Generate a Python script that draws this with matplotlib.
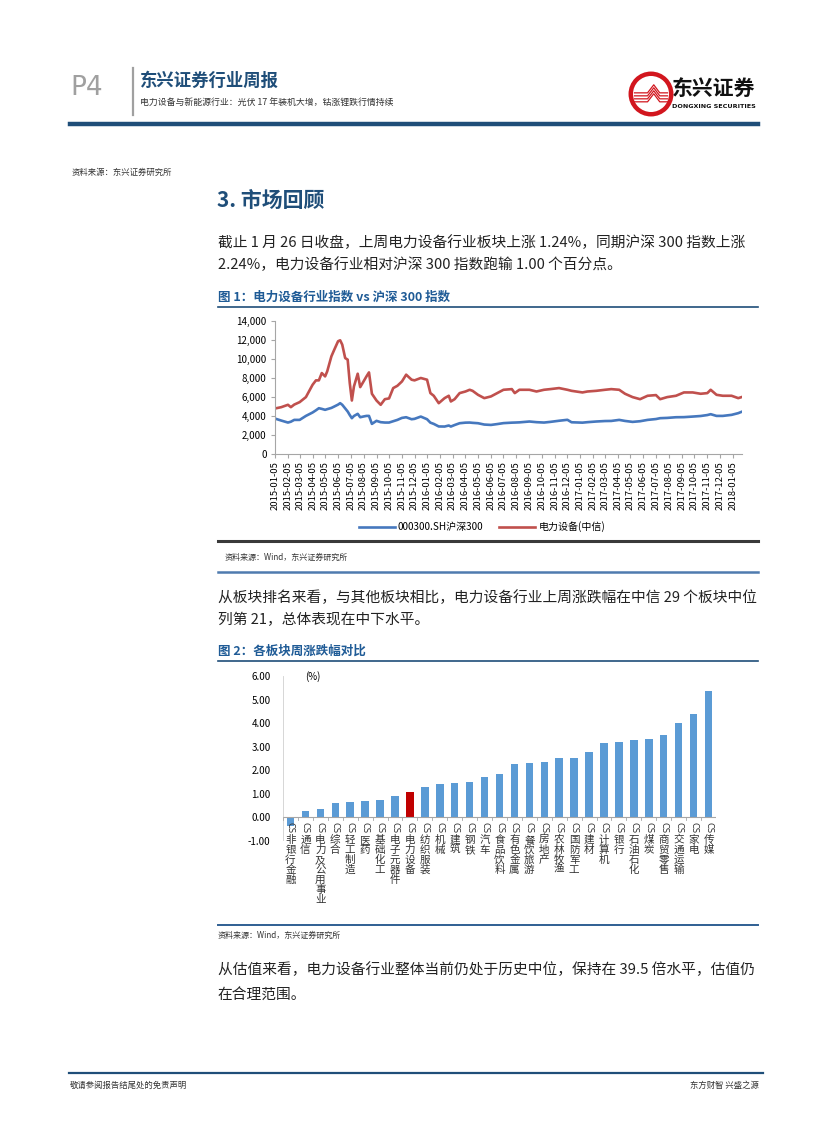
import matplotlib
matplotlib.use("Agg")
import matplotlib.pyplot as plt
import matplotlib.patches as mpatches
import matplotlib.transforms as mtrans
from matplotlib.lines import Line2D
from matplotlib.ticker import FuncFormatter
import pandas as pd

plt.rcParams['font.family'] = ['Noto Sans CJK SC', 'DejaVu Sans']

# ---- data: figure 1 (index levels) ----
dates = ["2015-01-05", "2015-01-20", "2015-02-05", "2015-02-12", "2015-02-20", "2015-03-05",
         "2015-03-20", "2015-04-05", "2015-04-13", "2015-04-20", "2015-04-27", "2015-05-05",
         "2015-05-10", "2015-05-20", "2015-05-27", "2015-06-05", "2015-06-10", "2015-06-15",
         "2015-06-22", "2015-06-28", "2015-07-03", "2015-07-08", "2015-07-13", "2015-07-22",
         "2015-07-28", "2015-08-05", "2015-08-12", "2015-08-18", "2015-08-25", "2015-09-05",
         "2015-09-15", "2015-09-25", "2015-10-05", "2015-10-15", "2015-10-25", "2015-11-05",
         "2015-11-15", "2015-11-28", "2015-12-05", "2015-12-20", "2016-01-04", "2016-01-12",
         "2016-01-20", "2016-02-01", "2016-02-15", "2016-02-25", "2016-03-01", "2016-03-10",
         "2016-03-22", "2016-04-05", "2016-04-15", "2016-04-22", "2016-05-05", "2016-05-20",
         "2016-06-05", "2016-06-20", "2016-07-05", "2016-07-25", "2016-08-01", "2016-08-12",
         "2016-09-05", "2016-09-22", "2016-10-10", "2016-10-25", "2016-11-15", "2016-12-05",
         "2016-12-15", "2017-01-10", "2017-01-22", "2017-02-12", "2017-03-05", "2017-03-20",
         "2017-04-08", "2017-04-22", "2017-05-10", "2017-05-28", "2017-06-15", "2017-07-05",
         "2017-07-15", "2017-08-01", "2017-08-22", "2017-09-10", "2017-10-01", "2017-10-20",
         "2017-11-05", "2017-11-13", "2017-11-27", "2017-12-12", "2018-01-02", "2018-01-18",
         "2018-01-26"]
hs300 = [3730, 3520, 3310, 3400, 3590, 3590, 4010, 4370, 4600, 4820, 4750, 4650,
         4720, 4850, 5000, 5200, 5350, 5180, 4800, 4470, 4100, 3770, 4000, 4230,
         3870, 3950, 4010, 4010, 3170, 3490, 3350, 3310, 3310, 3450, 3590, 3800,
         3870, 3660, 3700, 3940, 3660, 3300, 3170, 2900, 2890, 3000, 2890, 3050,
         3240, 3300, 3310, 3280, 3240, 3100, 3060, 3150, 3250, 3300, 3310, 3330,
         3420, 3350, 3310, 3380, 3500, 3600, 3340, 3300, 3350, 3420, 3470, 3480,
         3590, 3480, 3380, 3450, 3590, 3680, 3770, 3800, 3870, 3880, 3940, 4000,
         4100, 4190, 4010, 4010, 4120, 4300, 4440]
power_eq = [4790, 4930, 5180, 4930, 5200, 5460, 5990, 7290, 7750, 7750, 8520, 8170,
            8700, 10280, 10990, 11870, 11970, 11510, 10100, 9930, 7460, 5630, 7110, 8450,
            7040, 7640, 8170, 8590, 6340, 5630, 5180, 5770, 5850, 6940, 7180, 7640,
            8350, 7820, 7750, 8000, 7820, 6410, 6130, 5350, 5880, 6130, 5530, 5770,
            6410, 6580, 6760, 6650, 6230, 5880, 6060, 6410, 6760, 6830, 6410, 6760,
            6760, 6580, 6760, 6830, 6940, 6760, 6650, 6480, 6580, 6650, 6760, 6830,
            6760, 6340, 5990, 5770, 6130, 6200, 5770, 5990, 6130, 6480, 6480, 6340,
            6410, 6760, 6230, 6130, 6130, 5880, 5990]
series_names = ["000300.SH沪深300", "电力设备(中信)"]
y1_ticks = [0, 2000, 4000, 6000, 8000, 10000, 12000, 14000]

# ---- data: figure 2 (weekly change by sector, %) ----
sectors = ["非银行金融", "通信", "电力及公用事业", "综合", "轻工制造", "医药", "基础化工",
           "电子元器件", "电力设备", "纺织服装", "机械", "建筑", "钢铁", "汽车", "食品饮料",
           "有色金属", "餐饮旅游", "房地产", "农林牧渔", "国防军工", "建材", "计算机", "银行",
           "石油石化", "煤炭", "商贸零售", "交通运输", "家电", "传媒"]
weekly_chg = [-0.35, 0.27, 0.35, 0.60, 0.65, 0.70, 0.76, 0.90, 1.08, 1.30, 1.40, 1.47,
              1.50, 1.70, 1.83, 2.27, 2.29, 2.37, 2.50, 2.54, 2.77, 3.14, 3.18, 3.27,
              3.34, 3.51, 4.01, 4.40, 5.35]
highlight = "电力设备"
y2_ticks = [-1, 0, 1, 2, 3, 4, 5, 6]

W, H = 827, 1122
NAVY = "#1F4E79"
TITLE_BLUE = "#1F5B96"
BLUE_LINE = "#4678BE"
RED_LINE = "#C0504D"
BAR_BLUE = "#5B9BD5"
BAR_RED = "#C00000"
TXT = "#222222"
BODY = 10.6


def fx(x):
    return x / W


def fy(y):
    return 1 - y / H


def box(x0, y0, x1, y1):
    return [x0 / W, 1 - y1 / H, (x1 - x0) / W, (y1 - y0) / H]


def hline(fig, y, x0, x1, color, lw):
    fig.add_artist(Line2D([fx(x0), fx(x1)], [fy(y), fy(y)], color=color, lw=lw,
                          transform=fig.transFigure))


def ftext(fig, x, y, s, **kw):
    kw.setdefault("va", "center")
    kw.setdefault("color", TXT)
    fig.text(fx(x), fy(y), s, **kw)


fig = plt.figure(figsize=(W / 100, H / 100), dpi=100)

# ---- page header ----
ftext(fig, 70, 88, "P4", fontsize=19, color="#A0A0A0", family=["DejaVu Sans"])
fig.add_artist(Line2D([fx(133), fx(133)], [fy(68), fy(115)], color="#A0A0A0", lw=1.6,
                      transform=fig.transFigure))
ftext(fig, 140, 81, "东兴证券行业周报", fontsize=12.5, fontweight="bold", color=NAVY)
ftext(fig, 140, 103, "电力设备与新能源行业：光伏 17 年装机大增，钴涨锂跌行情持续",
      fontsize=6.4, color="#333333")

# logo
lax = fig.add_axes(box(628, 71, 674, 117))
lax.set_xlim(-1, 1); lax.set_ylim(-1, 1); lax.set_aspect("equal"); lax.axis("off")
lax.add_patch(mpatches.Circle((0, 0), 0.88, fc="white", ec="#D2161E", lw=3.2))
for k in range(4):
    d = -0.13 * k
    lax.plot([-0.72, -0.15, 0.12, 0.38, 0.72], [0.05 + d, 0.05 + d, 0.4 + d, 0.05 + d, 0.05 + d],
             color="#D2161E", lw=0.9)
ftext(fig, 714, 88, "东兴证券", fontsize=15, fontweight="bold", color="#111111", ha="center")
ftext(fig, 714, 106, "DONGXING SECURITIES", fontsize=4.6, fontweight="bold",
      color="#111111", ha="center", family=["DejaVu Sans"])

hline(fig, 124, 70, 758, NAVY, 3.2)
ftext(fig, 72, 172, "资料来源：东兴证券研究所", fontsize=6, color="#333333")

# ---- section text ----
ftext(fig, 217, 200, "3. 市场回顾", fontsize=15, fontweight="bold", color=NAVY)
ftext(fig, 218, 243, "截止 1 月 26 日收盘，上周电力设备行业板块上涨 1.24%，同期沪深 300 指数上涨",
      fontsize=BODY)
ftext(fig, 218, 265, "2.24%，电力设备行业相对沪深 300 指数跑输 1.00 个百分点。", fontsize=BODY)

# ---- figure 1 ----
ftext(fig, 218, 297, "图 1：电力设备行业指数 vs 沪深 300 指数", fontsize=9,
      fontweight="bold", color=TITLE_BLUE)
hline(fig, 307, 218, 758, NAVY, 1.2)

ax1 = fig.add_axes(box(275, 321, 742, 454))
t = pd.to_datetime(dates)
ax1.plot(t, hs300, color=BLUE_LINE, lw=1.9, label=series_names[0])
ax1.plot(t, power_eq, color=RED_LINE, lw=1.9, label=series_names[1])
ax1.set_ylim(0, 14000)
ax1.set_yticks(y1_ticks)
ax1.yaxis.set_major_formatter(FuncFormatter(lambda v, p: f"{v:,.0f}"))
xt = pd.date_range("2015-01-05", periods=37, freq=pd.DateOffset(months=1))
ax1.set_xticks(xt)
ax1.set_xticklabels([d.strftime("%Y-%m-%d") for d in xt], rotation=90, fontsize=6.8)
ax1.set_xlim(pd.Timestamp("2015-01-05"), pd.Timestamp("2018-01-27"))
ax1.tick_params(axis="y", labelsize=7, length=3, color="#A6A6A6", pad=3)
ax1.tick_params(axis="x", length=3, color="#A6A6A6", pad=2)
for s in ["top", "right"]:
    ax1.spines[s].set_visible(False)
for s in ["left", "bottom"]:
    ax1.spines[s].set_color("#A6A6A6")
    ax1.spines[s].set_linewidth(0.8)
fig.legend(handles=ax1.get_lines(), loc="center", bbox_to_anchor=(fx(482), fy(527)),
           ncol=2, frameon=False, fontsize=7.2, handlelength=3.6, columnspacing=1.6,
           handletextpad=0.3)

hline(fig, 541, 218, 758, "#3A3A3A", 2.2)
ftext(fig, 225, 557, "资料来源：Wind，东兴证券研究所", fontsize=5.8, color="#333333")
hline(fig, 572, 218, 758, "#4F7BAF", 1.8)

ftext(fig, 218, 598, "从板块排名来看，与其他板块相比，电力设备行业上周涨跌幅在中信 29 个板块中位",
      fontsize=BODY)
ftext(fig, 218, 620, "列第 21，总体表现在中下水平。", fontsize=BODY)

# ---- figure 2 ----
ftext(fig, 218, 651, "图 2：各板块周涨跌幅对比", fontsize=9, fontweight="bold", color=TITLE_BLUE)
hline(fig, 661, 218, 758, NAVY, 1.2)

ax2 = fig.add_axes(box(283, 676, 716, 841))
xs = range(len(sectors))
colors = [BAR_RED if s == highlight else BAR_BLUE for s in sectors]
ax2.bar(xs, weekly_chg, width=0.5, color=colors)
ax2.set_xlim(-0.5, len(sectors) - 0.5)
ax2.set_ylim(-1, 6)
ax2.set_yticks(y2_ticks)
ax2.yaxis.set_major_formatter(FuncFormatter(lambda v, p: f"{v:.2f}"))
ax2.tick_params(axis="y", labelsize=7, length=0, pad=9)
ax2.set_xticks([])
for s in ["top", "right", "bottom", "left"]:
    ax2.spines[s].set_visible(False)
ax2.axhline(0, color="#A6A6A6", lw=0.8)
ax2.plot([-0.5, -0.5], [-1, 6], color="#D0D0D0", lw=0.6)
for i in range(len(sectors) + 1):
    ax2.plot([i - 0.5, i - 0.5], [0, -0.1], color="#A6A6A6", lw=0.6)
ax2.text(0.05, 0.995, "(%)", transform=ax2.transAxes, fontsize=7, va="center", ha="left")

cs_tr = mtrans.offset_copy(ax2.transData, fig=fig, x=0, y=-3.5, units="points")
nm_tr = mtrans.offset_copy(ax2.transData, fig=fig, x=0, y=-12.5, units="points")
for i, name in enumerate(sectors):
    ax2.text(i, 0, "CS", transform=cs_tr, rotation=-90, ha="center", va="top",
             fontsize=6, color="#333333", family=["DejaVu Sans"])
    ax2.text(i, 0, "\n".join(name), transform=nm_tr, ha="center", va="top",
             fontsize=7.6, color="#333333", linespacing=1.0)

hline(fig, 925, 218, 758, "#2F5F93", 1.4)
ftext(fig, 218, 935, "资料来源：Wind，东兴证券研究所", fontsize=5.8, color="#333333")

ftext(fig, 218, 970, "从估值来看，电力设备行业整体当前仍处于历史中位，保持在 39.5 倍水平，估值仍",
      fontsize=BODY)
ftext(fig, 218, 996, "在合理范围。", fontsize=BODY)

# ---- footer ----
hline(fig, 1073, 69, 763, NAVY, 1.6)
ftext(fig, 70, 1085, "敬请参阅报告结尾处的免责声明", fontsize=6, color="#333333")
ftext(fig, 759, 1085, "东方财智 兴盛之源", fontsize=6, color="#333333", ha="right")

fig.savefig("out.png", dpi=100)
